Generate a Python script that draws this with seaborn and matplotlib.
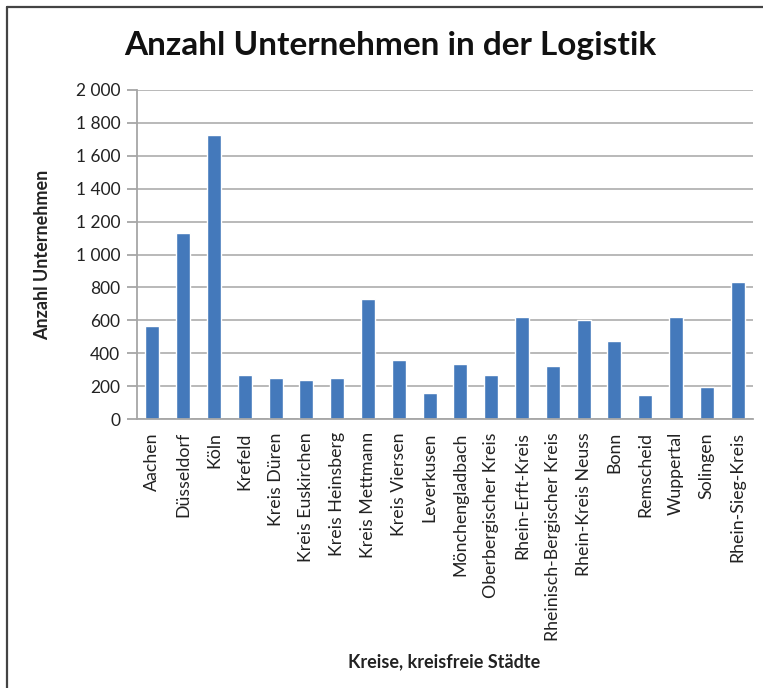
import matplotlib
matplotlib.use("Agg")
import matplotlib.pyplot as plt
import matplotlib.ticker as mticker
from matplotlib.lines import Line2D
import seaborn as sns
import pandas as pd

kreise = ["Aachen", "Düsseldorf", "Köln", "Krefeld", "Kreis Düren",
          "Kreis Euskirchen", "Kreis Heinsberg", "Kreis Mettmann",
          "Kreis Viersen", "Leverkusen", "Mönchengladbach",
          "Oberbergischer Kreis", "Rhein-Erft-Kreis",
          "Rheinisch-Bergischer Kreis", "Rhein-Kreis Neuss", "Bonn",
          "Remscheid", "Wuppertal", "Solingen", "Rhein-Sieg-Kreis"]
unternehmen = [565, 1130, 1725, 265, 247, 235, 247, 728, 356, 160,
               332, 265, 618, 320, 600, 472, 143, 618, 192, 832]
y_ticks = [0, 200, 400, 600, 800, 1000, 1200, 1400, 1600, 1800, 2000]

df = pd.DataFrame({"Kreis": kreise, "Anzahl": unternehmen})

sns.set_style("white")
plt.rcParams["font.family"] = ["Lato", "DejaVu Sans"]

W, H = 763, 688
fig = plt.figure(figsize=(W / 100, H / 100), dpi=100)
ax = fig.add_axes([137 / W, 1 - 419 / H, (753 - 137) / W, (419 - 90) / H])

sns.barplot(data=df, x="Kreis", y="Anzahl", color="#4479BB",
            width=0.45, saturation=1, ax=ax)

ax.set_ylim(0, 2000)
ax.set_xlim(-0.5, len(kreise) - 0.5)
ax.set_yticks(y_ticks)
ax.yaxis.set_major_formatter(
    mticker.FuncFormatter(lambda v, p: f"{int(v):,}".replace(",", " ")))
ax.grid(axis="y", color="#B3B3B3", linewidth=1.3)
ax.set_axisbelow(True)

for s in ["top", "right"]:
    ax.spines[s].set_visible(False)
for s in ["left", "bottom"]:
    ax.spines[s].set_color("#A6A6A6")
    ax.spines[s].set_linewidth(1.3)

ax.tick_params(axis="y", left=True, length=7, width=1.3, color="#A6A6A6",
               labelsize=12.5, labelcolor="#222222", pad=5)
ax.tick_params(axis="x", bottom=False, labelsize=12.8,
               labelcolor="#222222", pad=6)
plt.setp(ax.get_xticklabels(), rotation=90)

ax.set_xlabel("")
ax.set_ylabel("")

fig.text(444 / W, 1 - 662 / H, "Kreise, kreisfreie Städte",
         ha="center", va="center", fontsize=13, fontweight="bold",
         color="#222222")
fig.text(43 / W, 1 - 255 / H, "Anzahl Unternehmen", rotation=90,
         ha="center", va="center", fontsize=13, fontweight="bold",
         color="#222222")
fig.text(390 / W, 1 - 45 / H, "Anzahl Unternehmen in der Logistik",
         ha="center", va="center", fontsize=24, fontweight="bold",
         color="#111111")

# frame of the chart area (only top and left visible in the crop)
fig.add_artist(Line2D([7 / W, 7 / W], [0, 1 - 7 / H], transform=fig.transFigure,
                      color="#444444", linewidth=1.6))
fig.add_artist(Line2D([7 / W, 1], [1 - 7 / H, 1 - 7 / H],
                      transform=fig.transFigure, color="#444444",
                      linewidth=1.6))

fig.savefig("out.png", dpi=100, facecolor="white")
